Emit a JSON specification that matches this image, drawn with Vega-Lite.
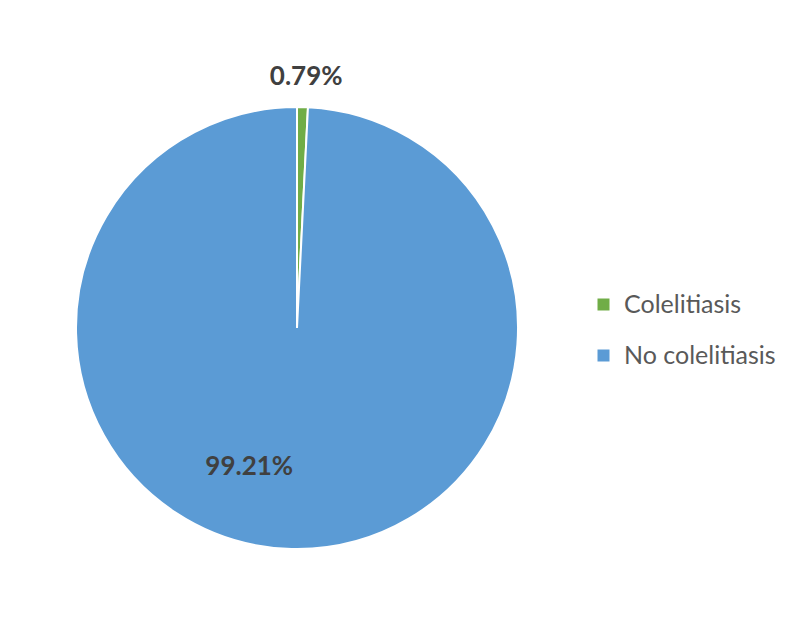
{
  "$schema": "https://vega.github.io/schema/vega-lite/v6.json",
  "width": 582,
  "height": 636,
  "autosize": "none",
  "padding": {"left": 6, "top": 10, "right": 205, "bottom": 0},
  "background": "white",
  "config": {"view": {"stroke": null}},
  "data": {"values": [
    {"category": "Colelitiasis", "share": 0.0079},
    {"category": "No colelitiasis", "share": 0.9921}
  ]},
  "encoding": {
    "theta": {"field": "share", "type": "quantitative", "stack": true}
  },
  "layer": [
    {
      "mark": {"type": "arc", "outerRadius": 221, "stroke": "white", "strokeWidth": 2},
      "encoding": {
        "color": {
          "field": "category", "type": "nominal",
          "scale": {"domain": ["Colelitiasis", "No colelitiasis"], "range": ["#70AD47", "#5B9BD5"]},
          "legend": {
            "title": null, "orient": "none", "legendX": 585, "legendY": 282,
            "padding": 0, "symbolType": "square", "symbolSize": 144,
            "symbolStrokeWidth": 0, "labelFont": "Lato", "labelFontSize": 25,
            "labelColor": "#595959", "labelOffset": 8, "rowPadding": 25
          }
        }
      }
    },
    {
      "mark": {"type": "text", "radius": 251, "dx": 3, "font": "Lato", "fontWeight": "bold", "fontSize": 26, "color": "#404040"},
      "encoding": {
        "text": {"condition": {"test": "datum.category === 'Colelitiasis'", "field": "share", "type": "quantitative", "format": ".2%"}, "value": ""}
      }
    },
    {
      "mark": {"type": "text", "radius": 150, "dx": -44, "dy": -11, "font": "Lato", "fontWeight": "bold", "fontSize": 26, "color": "#404040"},
      "encoding": {
        "text": {"condition": {"test": "datum.category === 'No colelitiasis'", "field": "share", "type": "quantitative", "format": ".2%"}, "value": ""}
      }
    }
  ]
}
